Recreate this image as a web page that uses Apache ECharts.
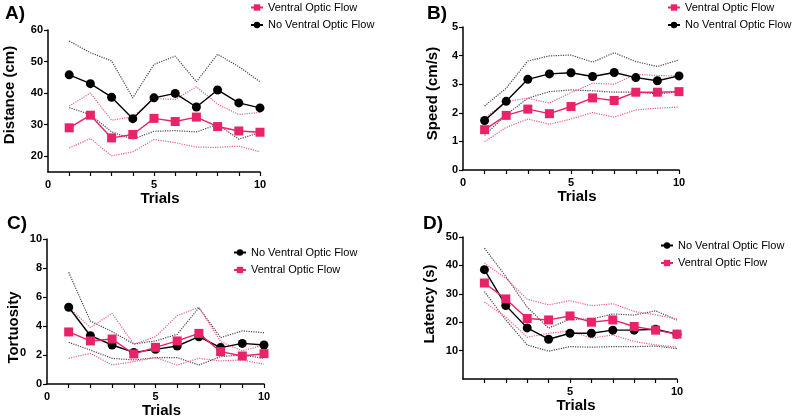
<!DOCTYPE html>
<html>
<head>
<meta charset="utf-8">
<script src="https://cdn.jsdelivr.net/npm/echarts@6/dist/echarts.min.js"></script>
<style>
    html, body { margin: 0; padding: 0; background: #fff; }
    #chart { width: 793px; height: 419px; }
</style>
</head>
<body>
<div id="chart"></div>
<script>
// trial numbers (x axis of all four panels)
var trials = [1, 2, 3, 4, 5, 6, 7, 8, 9, 10];

// A) distance (cm): mean and dotted upper/lower bands
var distVOF   = [29.0, 33.0, 25.8, 26.9, 32.0, 31.0, 32.4, 29.4, 28.0, 27.6];
var distVOFHi = [35.9, 40.0, 31.4, 32.5, 38.3, 38.0, 42.0, 36.5, 33.2, 33.9];
var distVOFLo = [22.6, 25.6, 20.1, 21.4, 25.3, 24.3, 22.9, 22.8, 23.2, 21.4];
var distNo    = [45.8, 43.0, 38.7, 31.9, 38.5, 39.9, 35.6, 41.0, 36.9, 35.3];
var distNoHi  = [56.5, 52.8, 50.2, 38.5, 49.1, 51.7, 43.6, 52.3, 48.4, 43.6];
var distNoLo  = [35.4, 33.2, 27.7, 25.4, 27.9, 28.1, 27.7, 30.1, 25.4, 27.5];

// B) speed (cm/s)
var speedVOF   = [1.41, 1.91, 2.13, 1.97, 2.22, 2.52, 2.43, 2.72, 2.72, 2.74];
var speedVOFHi = [1.81, 2.40, 2.51, 2.34, 2.71, 3.03, 3.00, 3.35, 3.30, 3.29];
var speedVOFLo = [0.99, 1.49, 1.78, 1.60, 1.78, 2.01, 1.85, 2.10, 2.16, 2.20];
var speedNo    = [1.73, 2.40, 3.17, 3.36, 3.40, 3.27, 3.41, 3.23, 3.12, 3.29];
var speedNoHi  = [2.24, 2.86, 3.81, 3.99, 4.02, 3.77, 4.10, 3.79, 3.62, 3.85];
var speedNoLo  = [1.21, 1.93, 2.51, 2.74, 2.80, 2.77, 2.72, 2.72, 2.66, 2.74];

// C) tortuosity
var tortNo    = [5.29, 3.33, 2.69, 2.18, 2.39, 2.62, 3.26, 2.51, 2.80, 2.69];
var tortNoHi  = [7.70, 4.34, 3.61, 2.76, 2.97, 3.43, 5.26, 3.20, 3.66, 3.54];
var tortNoLo  = [2.87, 2.34, 1.77, 1.66, 1.82, 1.82, 1.31, 1.89, 2.00, 1.77];
var tortVOF   = [3.59, 2.97, 3.10, 2.07, 2.53, 2.97, 3.49, 2.23, 1.93, 2.09];
var tortVOFHi = [5.30, 3.89, 4.87, 2.74, 3.26, 4.71, 5.29, 2.92, 2.28, 2.69];
var tortVOFLo = [1.77, 2.11, 1.31, 1.54, 1.82, 1.31, 1.77, 1.59, 1.66, 1.36];

// D) latency (s)
var latNo    = [38.5, 25.9, 18.0, 14.0, 16.1, 16.1, 17.2, 17.2, 17.5, 15.8];
var latNoHi  = [46.1, 36.1, 25.3, 17.9, 21.1, 21.1, 22.9, 22.5, 24.0, 20.8];
var latNoLo  = [30.8, 20.8, 12.0, 9.8, 11.4, 11.2, 11.4, 11.4, 11.6, 10.7];
var latVOF   = [33.8, 28.2, 21.3, 20.8, 22.2, 20.0, 20.8, 18.5, 17.2, 15.8];
var latVOFHi = [40.8, 35.5, 28.1, 26.1, 27.6, 25.8, 26.5, 23.8, 22.6, 21.1];
var latVOFLo = [27.1, 21.8, 14.7, 16.1, 16.9, 14.4, 15.5, 13.2, 12.0, 11.2];

// tick labels
var xLabelsABC = [0, 5, 10];
var xLabelsD = [5, 10];
var yTicksA = [20, 30, 40, 50, 60];
var yTicksB = [0, 1, 2, 3, 4, 5];
var yTicksC = [0, 2, 4, 6, 8, 10];
var yTicksD = [10, 20, 30, 40, 50];

var VOF = 'Ventral Optic Flow';
var NO_VOF = 'No Ventral Optic Flow';
var PINK = '#e8236a';
var FONT = 'Liberation Sans, Arial, sans-serif';

function pairs(vals) {
    return trials.map(function (t, i) { return [t, vals[i]]; });
}

function xAxisFor(idx, labels) {
    return {
        type: 'value', gridIndex: idx, min: 0, max: 10,
        name: 'Trials', nameLocation: 'middle', nameGap: 18,
        nameTextStyle: { fontSize: 15, fontWeight: 'bold', color: '#000', fontFamily: FONT, padding: [0, 0, 0, 12] },
        axisLine: { lineStyle: { color: '#000', width: 1.5 } },
        axisTick: { length: 4, lineStyle: { color: '#000', width: 1.2 }, customValues: trials },
        axisLabel: { customValues: labels, margin: 7, fontSize: 11, fontWeight: 'bold', color: '#000', fontFamily: FONT },
        splitLine: { show: false }
    };
}

function yAxisFor(idx, min, max, ticks, name, gap, pad) {
    return {
        type: 'value', gridIndex: idx, min: min, max: max,
        name: name, nameLocation: 'middle', nameGap: gap, nameRotate: 90,
        nameTextStyle: { fontSize: 15, fontWeight: 'bold', color: '#000', fontFamily: FONT, padding: pad },
        axisLine: { show: true, lineStyle: { color: '#000', width: 1.5 } },
        axisTick: { show: true, length: 4, lineStyle: { color: '#000', width: 1.2 }, customValues: ticks },
        axisLabel: { customValues: ticks, margin: 5, fontSize: 11, fontWeight: 'bold', color: '#000', fontFamily: FONT },
        splitLine: { show: false }
    };
}

function meanSeries(name, idx, vals, color, symbol) {
    return {
        name: name, type: 'line', xAxisIndex: idx, yAxisIndex: idx,
        data: pairs(vals), symbol: symbol, symbolSize: 9, z: 5,
        lineStyle: { color: color, width: 1.4 },
        itemStyle: { color: color }
    };
}

function bandSeries(idx, vals, color) {
    return {
        name: 'band', type: 'line', xAxisIndex: idx, yAxisIndex: idx,
        data: pairs(vals), symbol: 'none', silent: true, z: 3,
        lineStyle: { color: color, width: 1.2, type: 'dotted' }
    };
}

function legendAt(left, top, names) {
    return {
        left: left, top: top, orient: 'vertical', padding: 0,
        itemWidth: 12, itemHeight: 8, itemGap: 6.5,
        data: names, selectedMode: false,
        textStyle: { fontSize: 11, color: '#000', fontFamily: FONT }
    };
}

function panelTitle(text, left, top) {
    return { text: text, left: left, top: top, padding: 0,
        textStyle: { fontSize: 19, fontWeight: 'bold', color: '#000', fontFamily: FONT } };
}

var dotGray = '#4a4a4a';
var dotPink = '#ee5a92';

var mychart = echarts.init(document.getElementById('chart'));
var option = {
    backgroundColor: '#fff',
    animation: false,
    title: [
        panelTitle('A)', 5, 4),
        panelTitle('B)', 427, 4),
        panelTitle('C)', 7, 214),
        panelTitle('D)', 423, 214)
    ],
    legend: [
        legendAt(250, 2, [VOF, NO_VOF]),
        legendAt(667, 2, [VOF, NO_VOF]),
        legendAt(233, 247, [NO_VOF, VOF]),
        legendAt(660, 240, [NO_VOF, VOF])
    ],
    grid: [
        { left: 48, top: 30, width: 212, height: 142 },
        { left: 463, top: 27, width: 216, height: 143 },
        { left: 47, top: 239, width: 217, height: 145 },
        { left: 463, top: 237, width: 214, height: 142 }
    ],
    xAxis: [
        xAxisFor(0, xLabelsABC),
        xAxisFor(1, xLabelsABC),
        xAxisFor(2, xLabelsABC),
        xAxisFor(3, xLabelsD)
    ],
    yAxis: [
        yAxisFor(0, 15, 60, yTicksA, 'Distance (cm)', 31, [0, 0, 0, 12]),
        yAxisFor(1, 0, 5, yTicksB, 'Speed (cm/s)', 23, [0, 0, 0, 10]),
        yAxisFor(2, 0, 10, yTicksC, 'Tortuosity', 26, [0, 32, 0, 0]),
        yAxisFor(3, 0, 50, yTicksD, 'Latency (s)', 26, [0, 0, 0, 8])
    ],
    graphic: [
        // stray label left of the C) axis, as in the original figure
        { type: 'text', left: 20, top: 347,
          style: { text: '0', fontSize: 11, fontWeight: 'bold', fill: '#000', fontFamily: FONT } }
    ],
    series: [
        bandSeries(0, distNoHi, dotGray), bandSeries(0, distNoLo, dotGray),
        bandSeries(0, distVOFHi, dotPink), bandSeries(0, distVOFLo, dotPink),
        meanSeries(VOF, 0, distVOF, PINK, 'rect'),
        meanSeries(NO_VOF, 0, distNo, '#000', 'circle'),

        bandSeries(1, speedNoHi, dotGray), bandSeries(1, speedNoLo, dotGray),
        bandSeries(1, speedVOFHi, dotPink), bandSeries(1, speedVOFLo, dotPink),
        meanSeries(VOF, 1, speedVOF, PINK, 'rect'),
        meanSeries(NO_VOF, 1, speedNo, '#000', 'circle'),

        bandSeries(2, tortNoHi, dotGray), bandSeries(2, tortNoLo, dotGray),
        bandSeries(2, tortVOFHi, dotPink), bandSeries(2, tortVOFLo, dotPink),
        meanSeries(NO_VOF, 2, tortNo, '#000', 'circle'),
        meanSeries(VOF, 2, tortVOF, PINK, 'rect'),

        bandSeries(3, latNoHi, dotGray), bandSeries(3, latNoLo, dotGray),
        bandSeries(3, latVOFHi, dotPink), bandSeries(3, latVOFLo, dotPink),
        meanSeries(NO_VOF, 3, latNo, '#000', 'circle'),
        meanSeries(VOF, 3, latVOF, PINK, 'rect')
    ]
};
mychart.setOption(option);
</script>
</body>
</html>
